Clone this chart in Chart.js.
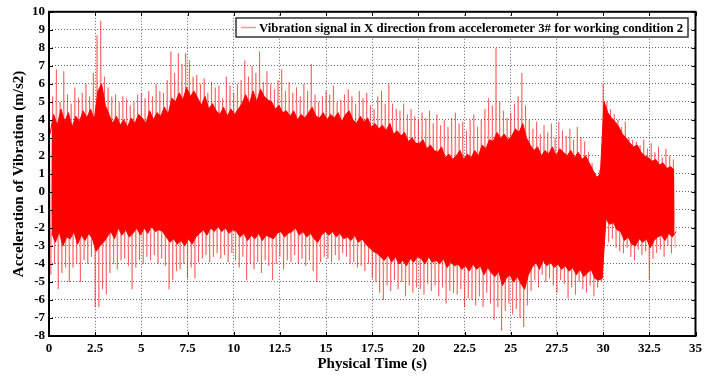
<!DOCTYPE html>
<html>
<head>
<meta charset="utf-8">
<script src="https://cdn.jsdelivr.net/npm/chart.js@4.4.0/dist/chart.umd.min.js"></script>
<style>
  body { margin: 0; background: #fff; }
  canvas { display: block; }
</style>
</head>
<body>
<canvas id="vibChart" width="707" height="378"></canvas>
<script>
    // Values (m/s2)
    const seriesLabel = 'Vibration signal in X direction from accelerometer 3# for working condition 2';
    const xTitle = 'Physical Time (s)';
    const yTitle = 'Acceleration of Vibration (m/s2)';

    // Peak excursions (pale tips), one every 0.2 s: tops at t, bottoms at t + 0.1
    const spikeStep = 0.2;
    const spikeTop = [
        6.3, 5.3, 6.8, 5.0, 6.7,   5.4, 4.9, 5.8, 5.2, 5.5,
        6.0, 5.3, 6.6, 8.7, 9.5,   6.4, 5.8, 5.3, 5.4, 5.0,
        5.3, 5.2, 4.8, 5.0, 5.4,   5.5, 5.2, 5.6, 5.3, 6.0,
        5.6, 5.5, 6.2, 7.8, 6.6,   7.7, 7.1, 7.7, 7.3, 6.4,
        6.5, 6.0, 6.3, 5.5, 6.1,   5.8, 5.9, 5.2, 6.4, 5.9,
        5.5, 6.0, 6.2, 7.3, 6.4,   7.0, 6.6, 7.8, 6.1, 6.7,
        6.0, 5.7, 6.2, 6.8, 5.6,   6.1, 5.5, 5.8, 5.3, 6.0,
        5.6, 7.1, 5.4, 5.0, 5.3,   5.6, 5.4, 5.9, 5.0, 5.1,
        5.4, 5.7, 5.3, 4.9, 5.6,   5.2, 5.5, 4.8, 4.6, 5.3,
        5.6, 4.9, 6.0, 4.9, 4.6,   4.5, 4.9, 4.3, 4.6, 4.2,
        4.0, 4.4, 4.1, 4.5, 3.8,   4.3, 3.7, 4.0, 3.6, 4.1,
        4.4, 3.8, 3.9, 3.4, 4.0,   4.3, 3.6, 4.0, 4.6, 5.2,
        4.8, 8.0, 5.0, 4.5, 4.1,   4.4, 4.9, 5.3, 6.6, 4.8,
        4.0, 3.5, 3.9, 3.2, 3.7,   3.3, 3.8, 3.0, 3.9, 3.4,
        3.1, 3.5, 2.9, 3.6, 3.0,   2.8, 2.2, 1.6, 1.0, 1.2,
        6.0, 5.0, 4.6, 4.3, 4.0,   3.6, 3.9, 3.0, 2.9, 2.8,
        2.6, 2.9, 2.4, 2.7, 2.2,   2.5, 1.9, 2.4, 2.0, 1.8
    ];
    const spikeBottom = [
        -4.6, -4.0, -5.4, -4.5, -4.2,   -5.0, -4.2, -4.0, -5.0, -3.8,
        -4.0, -3.6, -6.4, -6.4, -5.4,   -5.7, -4.5, -4.0, -4.3, -3.8,
        -3.7, -4.1, -5.4, -4.2, -3.8,   -4.0, -3.6, -3.8, -3.5, -4.0,
        -3.7, -4.1, -5.4, -4.9, -4.4,   -4.3, -4.0, -4.8, -4.2, -4.8,
        -3.9, -3.7, -3.5, -3.9, -3.6,   -3.4, -3.7, -3.5, -3.9, -3.4,
        -3.8, -4.2, -3.6, -4.9, -4.0,   -4.3, -3.9, -4.5, -3.8, -4.1,
        -4.9, -4.0, -3.6, -4.3, -3.8,   -3.9, -3.5, -4.0, -3.7, -4.1,
        -3.8, -4.4, -5.0, -3.9, -3.6,   -3.7, -3.9, -3.5, -3.8, -3.4,
        -3.6, -4.0, -3.9, -4.2, -4.1,   -4.4, -4.0, -4.8, -5.0, -5.6,
        -6.0, -5.2, -5.5, -4.9, -5.4,   -5.0, -5.8, -5.2, -5.6, -5.3,
        -5.4, -5.7, -5.1, -5.5, -5.2,   -5.8, -5.3, -6.2, -5.5, -5.6,
        -5.7, -5.4, -6.4, -5.9, -6.0,   -6.3, -5.8, -6.4, -5.6, -6.2,
        -7.1, -6.4, -7.7, -6.6, -6.2,   -6.8, -6.5, -7.0, -7.5, -6.3,
        -5.5, -4.9, -5.3, -4.6, -5.0,   -4.8, -5.2, -5.6, -4.9, -5.1,
        -5.9, -5.3, -5.7, -5.0, -5.4,   -5.6, -5.2, -5.8, -5.3, -5.0,
        -2.2, -2.8, -2.6, -3.1, -3.3,   -3.4, -3.1, -3.6, -3.8, -3.2,
        -3.5, -3.3, -4.9, -3.7, -3.4,   -3.2, -3.6, -3.0, -3.4, -3.1
    ];

    // Dense (solid red) body of the signal, same 0.2 s step
    const innerTop = [
        3.2, 4.3, 3.7, 4.6, 3.9,   4.4, 3.6, 4.2, 3.9, 4.5,
        4.1, 4.6, 4.0, 5.6, 6.0,   4.8, 4.3, 3.8, 4.2, 3.7,
        4.0, 3.6, 4.1, 3.8, 4.3,   4.1, 3.8, 4.5, 4.0, 4.4,
        4.2, 4.7, 4.3, 5.2, 5.0,   5.5, 5.1, 5.8, 5.3, 5.6,
        5.2, 4.8, 5.3, 4.6, 4.9,   4.5, 4.3, 4.7, 4.2, 4.6,
        4.3, 4.6, 4.9, 5.4, 4.9,   5.6, 5.0, 5.7, 5.3, 5.1,
        5.0, 4.6, 4.8, 4.4, 4.5,   4.2, 4.5, 4.0, 4.3, 4.1,
        4.4, 4.7, 4.2, 4.1, 4.4,   4.0, 4.3, 4.1, 4.4, 3.9,
        4.3, 4.5, 4.0, 3.8, 4.2,   3.9, 4.1, 3.6, 3.8, 3.5,
        3.7, 3.4, 3.8, 3.2, 3.4,   3.1, 3.3, 2.8, 3.0, 2.7,
        2.7, 2.9, 2.4, 2.6, 2.3,   2.2, 2.5, 1.9, 2.1, 1.8,
        2.0, 2.3, 1.8, 2.1, 1.9,   2.3, 2.0, 2.6, 2.4, 2.9,
        2.8, 3.3, 3.0, 3.2, 2.9,   3.1, 3.5, 3.3, 3.8, 3.0,
        2.6, 2.3, 2.5, 2.0, 2.3,   2.1, 2.5, 2.0, 2.4, 2.2,
        2.0, 2.3, 1.9, 2.2, 1.8,   2.0, 1.6, 1.2, 0.8, 1.0,
        5.0, 4.4, 4.1, 3.9, 3.6,   3.2, 3.0, 2.7, 2.5, 2.6,
        2.2, 2.0, 1.9, 1.7, 1.8,   1.5, 1.6, 1.3, 1.4, 1.2
    ];
    const innerBottom = [
        -2.3, -2.8, -2.2, -3.0, -2.5,   -2.6, -2.2, -2.9, -2.4, -2.7,
        -2.3, -2.6, -3.3, -3.0, -2.8,   -2.5, -2.2, -2.6, -2.0, -2.4,
        -2.1, -2.5, -2.3, -2.0, -2.4,   -2.0, -2.3, -1.9, -2.2, -2.1,
        -2.2, -2.5, -2.8, -2.6, -2.9,   -2.7, -3.0, -2.6, -2.9, -2.5,
        -2.3, -2.1, -2.4, -2.0, -2.2,   -1.9, -2.2, -2.0, -2.3, -2.1,
        -2.2, -2.5, -2.3, -2.7, -2.4,   -2.6, -2.3, -2.7, -2.4, -2.5,
        -2.6, -2.3, -2.2, -2.5, -2.3,   -2.2, -2.0, -2.4, -2.2, -2.5,
        -2.3, -2.6, -2.8, -2.4, -2.2,   -2.4, -2.2, -2.5, -2.3, -2.6,
        -2.5, -2.7, -2.4, -2.8, -2.6,   -2.9, -3.1, -3.3, -3.4, -3.6,
        -3.8, -3.5, -3.9, -3.6, -4.0,   -3.8, -4.1, -3.7, -3.9, -3.6,
        -3.7, -4.0, -3.6, -3.9, -3.8,   -4.0, -3.7, -4.2, -3.9, -4.1,
        -4.0, -4.3, -4.1, -4.4, -4.0,   -4.3, -4.1, -4.6, -4.2, -4.5,
        -4.7, -4.4, -5.2, -4.8, -4.6,   -5.0, -4.7, -5.1, -5.4, -4.6,
        -4.2, -3.9, -4.3, -3.8, -4.1,   -3.9, -4.2, -4.0, -4.3, -4.1,
        -4.4, -4.2, -4.6, -4.3, -4.7,   -4.5, -4.3, -4.8, -4.9, -4.8,
        -1.5, -1.8, -1.7, -2.1, -2.2,   -2.7, -2.5, -2.9, -3.0, -2.6,
        -2.8, -2.6, -3.1, -2.7, -2.5,   -2.4, -2.7, -2.3, -2.5, -2.2
    ];

    // Axis ticks
    const xTicks = { min: 0, max: 35, step: 2.5 };
    const yTicks = { min: -8, max: 10, step: 1 };

    const SERIF = '"Liberation Serif", "Times New Roman", serif';
    const RED = '#ff0000';
    const PALE_RED = 'rgba(255, 0, 0, 0.42)';

    // Build point lists from the arrays above
    const spikePoints = [];
    spikeTop.forEach((v, i) => {
        spikePoints.push({ x: i * spikeStep, y: v });
        spikePoints.push({ x: i * spikeStep + spikeStep / 2, y: spikeBottom[i] });
    });
    const bodyTopPoints = innerTop.map((v, i) => ({ x: i * spikeStep + 0.05, y: v }));
    const bodyBottomPoints = innerBottom.map((v, i) => ({ x: i * spikeStep + 0.15, y: v }));

    // Frame, inward ticks and boxed legend like the original figure
    const framePlugin = {
        id: 'frame',
        afterDraw(chart) {
            const { ctx, chartArea: a, scales } = chart;
            ctx.save();
            ctx.setLineDash([]);
            ctx.strokeStyle = '#000';
            ctx.lineWidth = 1;
            scales.x.ticks.forEach(t => {
                const px = Math.round(scales.x.getPixelForValue(t.value)) + 0.5;
                ctx.beginPath();
                ctx.moveTo(px, a.bottom); ctx.lineTo(px, a.bottom - 4);
                ctx.moveTo(px, a.top); ctx.lineTo(px, a.top + 4);
                ctx.stroke();
            });
            scales.y.ticks.forEach(t => {
                const py = Math.round(scales.y.getPixelForValue(t.value)) + 0.5;
                ctx.beginPath();
                ctx.moveTo(a.left, py); ctx.lineTo(a.left + 4, py);
                ctx.moveTo(a.right, py); ctx.lineTo(a.right - 4, py);
                ctx.stroke();
            });
            ctx.lineWidth = 2;
            ctx.strokeRect(a.left, a.top, a.right - a.left, a.bottom - a.top);

            // Legend box
            const ds = chart.data.datasets.find(d => d.showInLegend);
            const box = { x: 236, y: 18, w: 452, h: 19 };
            ctx.fillStyle = '#fff';
            ctx.fillRect(box.x, box.y, box.w, box.h);
            ctx.lineWidth = 1.5;
            ctx.strokeStyle = '#333';
            ctx.strokeRect(box.x, box.y, box.w, box.h);
            ctx.strokeStyle = ds.borderColor;
            ctx.lineWidth = 1.5;
            ctx.beginPath();
            ctx.moveTo(box.x + 5, box.y + box.h / 2);
            ctx.lineTo(box.x + 20, box.y + box.h / 2);
            ctx.stroke();
            ctx.fillStyle = '#000';
            ctx.font = 'bold 14px ' + SERIF;
            ctx.textBaseline = 'middle';
            ctx.textAlign = 'left';
            const textW = box.w - 27;
            const w = ctx.measureText(ds.label).width;
            const size = Math.min(15, 14 * textW / w);
            ctx.font = 'bold ' + size.toFixed(1) + 'px ' + SERIF;
            ctx.fillText(ds.label, box.x + 23, box.y + box.h / 2 + 1);
            ctx.restore();
        }
    };

    const tickFont = { family: SERIF, size: 13, weight: 'bold' };
    const titleFont = { family: SERIF, size: 15, weight: 'bold' };

    new Chart(document.getElementById('vibChart'), {
        type: 'line',
        data: {
            datasets: [
                {
                    label: seriesLabel,
                    showInLegend: true,
                    data: spikePoints,
                    borderColor: PALE_RED,
                    borderWidth: 1,
                    pointRadius: 0,
                    tension: 0,
                    fill: false,
                    order: 2
                },
                {
                    label: 'body top',
                    data: bodyTopPoints,
                    borderColor: RED,
                    backgroundColor: RED,
                    borderWidth: 1,
                    pointRadius: 0,
                    tension: 0,
                    fill: '+1',
                    order: 1
                },
                {
                    label: 'body bottom',
                    data: bodyBottomPoints,
                    borderColor: RED,
                    borderWidth: 1,
                    pointRadius: 0,
                    tension: 0,
                    fill: false,
                    order: 1
                }
            ]
        },
        options: {
            responsive: false,
            animation: false,
            devicePixelRatio: 1,
            layout: { padding: { top: 11, right: 7, left: 0, bottom: 0 } },
            plugins: {
                legend: { display: false },
                tooltip: { enabled: false }
            },
            scales: {
                x: {
                    type: 'linear',
                    min: xTicks.min,
                    max: xTicks.max,
                    afterFit: (scale) => { scale.height = 42; },
                    ticks: {
                        stepSize: xTicks.step,
                        autoSkip: false,
                        maxRotation: 0,
                        padding: 5,
                        color: '#000',
                        font: tickFont
                    },
                    grid: { color: 'rgba(0,0,0,0.6)', drawTicks: false, lineWidth: 1 },
                    border: { display: false, dash: [1, 2] },
                    title: { display: true, text: xTitle, color: '#000', font: titleFont, padding: { top: 0, bottom: 5 } }
                },
                y: {
                    min: yTicks.min,
                    max: yTicks.max,
                    afterFit: (scale) => { scale.width = 49; },
                    ticks: {
                        stepSize: yTicks.step,
                        autoSkip: false,
                        padding: 4,
                        color: '#000',
                        font: tickFont
                    },
                    grid: { color: 'rgba(0,0,0,0.6)', drawTicks: false, lineWidth: 1 },
                    border: { display: false, dash: [1, 2] },
                    title: { display: true, text: yTitle, color: '#000', font: titleFont, padding: { top: 10, bottom: 0 } }
                }
            }
        },
        plugins: [framePlugin]
    });
</script>
</body>
</html>
